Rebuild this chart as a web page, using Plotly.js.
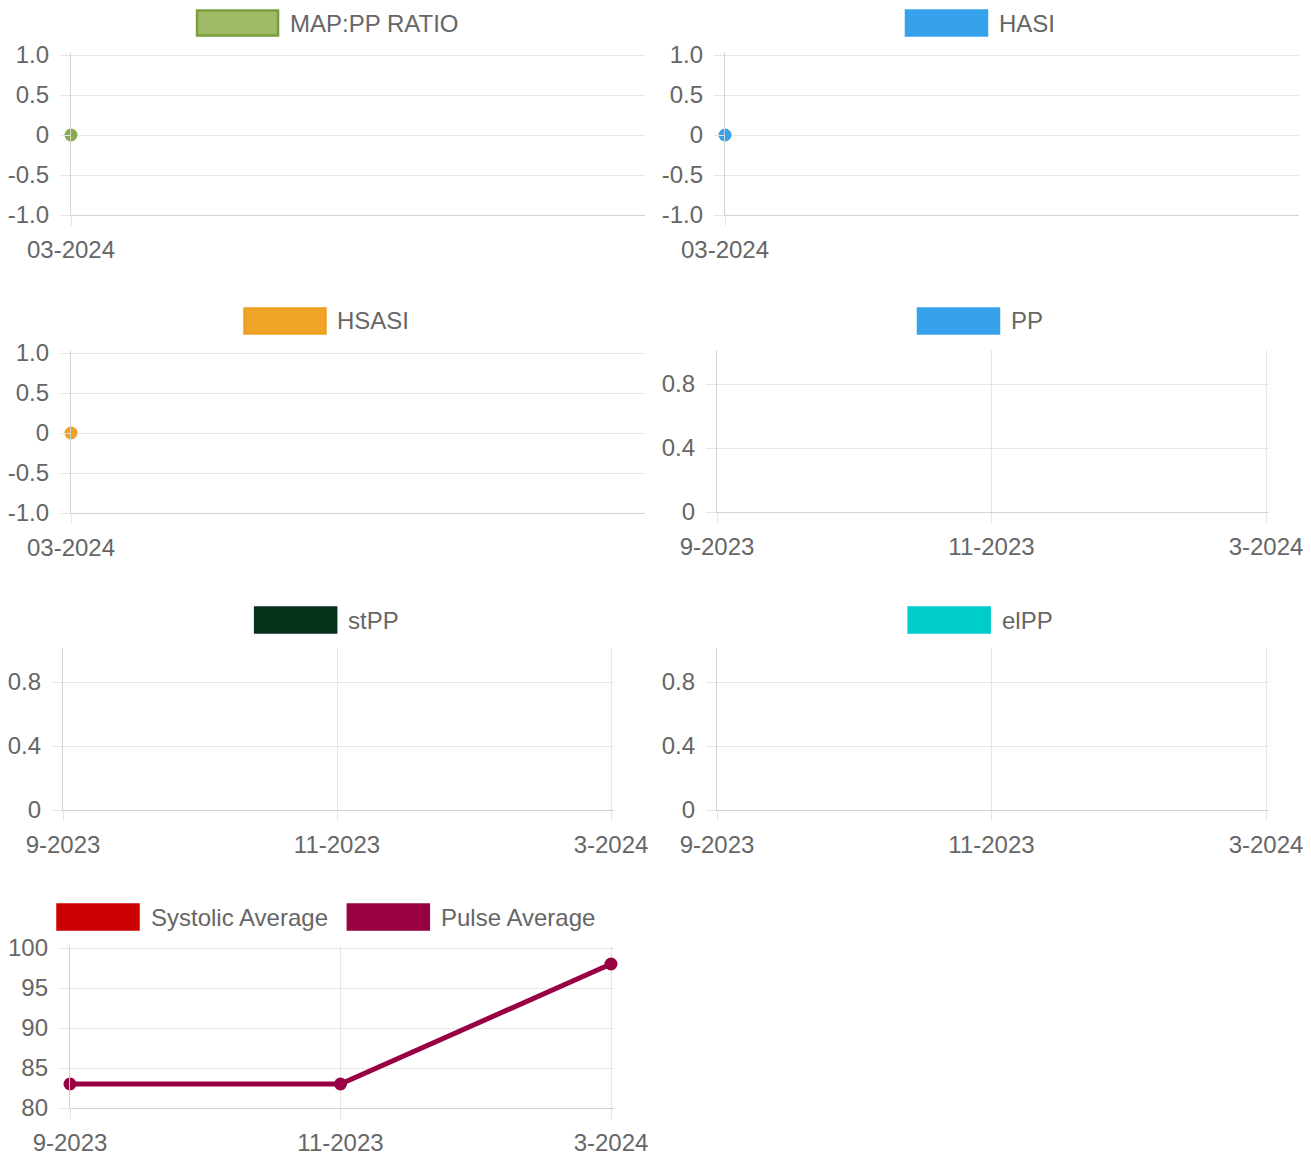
<!DOCTYPE html>
<html><head><meta charset="utf-8">
<script src="https://cdn.plot.ly/plotly-3.0.1.min.js"></script>
<style>html,body{margin:0;padding:0;background:#fff}#chart{width:1311px;height:1159px}</style>
</head><body><div id="chart"></div>
<script>
// ---- data ----
const monthsSingle = ["03-2024"];
const mapPpRatio = [0];
const hasi = [0];
const hsasi = [0];
const monthsTrend = ["9-2023", "11-2023", "3-2024"];
const pp = [null, null, null];
const stPP = [null, null, null];
const elPP = [null, null, null];
const systolicAverage = [null, null, null];
const pulseAverage = [83, 83, 98];
const ratioTicks = [-1, -0.5, 0, 0.5, 1];
const ratioTickText = ["-1.0", "-0.5", "0", "0.5", "1.0"];
const ppTicks = [0, 0.4, 0.8];
const ppTickText = ["0", "0.4", "0.8"];
const pulseTicks = [80, 85, 90, 95, 100];

// ---- layout helpers ----
const W = 1311, H = 1159;
const FONT = "Liberation Sans, Arial, sans-serif";
const FS = 24;
const TXT = "#666666";
const GRID = "#e6e6e6";
const AXLINE = "#d2d2d2";
const px = x => x / W;
const py = y => 1 - y / H;
const EXT = 2.5; // px beyond last gridline so it is not hidden at the plot edge

const panels = [
  {labels: monthsSingle, series: [{name: "MAP:PP RATIO", y: mapPpRatio, color: "#8aac4a", fill: "#a0bb68", border: "#7b9e3c"}],
   box: [71, 645, 55, 215], yr: [-1, 1], tv: ratioTicks, tt: ratioTickText, xr: [0, 1], xext: false, lc: [327.5, 23]},
  {labels: monthsSingle, series: [{name: "HASI", y: hasi, color: "#36a2eb", fill: "#36a2eb", border: "#36a2eb"}],
   box: [725, 1299, 55, 215], yr: [-1, 1], tv: ratioTicks, tt: ratioTickText, xr: [0, 1], xext: false, lc: [980, 23]},
  {labels: monthsSingle, series: [{name: "HSASI", y: hsasi, color: "#f0a024", fill: "#f0a428", border: "#eda01e"}],
   box: [71, 645, 353, 513], yr: [-1, 1], tv: ratioTicks, tt: ratioTickText, xr: [0, 1], xext: false, lc: [326.5, 321]},
  {labels: monthsTrend, series: [{name: "PP", y: pp, color: "#36a2eb", fill: "#36a2eb", border: "#36a2eb"}],
   box: [717, 1266, 352, 512], yr: [0, 1], tv: ppTicks, tt: ppTickText, xr: [0, 2], xext: true, lc: [980, 321]},
  {labels: monthsTrend, series: [{name: "stPP", y: stPP, color: "#03321b", fill: "#03321b", border: "#03321b"}],
   box: [63, 611, 650, 810], yr: [0, 1], tv: ppTicks, tt: ppTickText, xr: [0, 2], xext: true, lc: [326.5, 620]},
  {labels: monthsTrend, series: [{name: "elPP", y: elPP, color: "#00cccc", fill: "#00cccc", border: "#00cccc"}],
   box: [717, 1266, 650, 810], yr: [0, 1], tv: ppTicks, tt: ppTickText, xr: [0, 2], xext: true, lc: [980, 620]},
  {labels: monthsTrend, series: [
      {name: "Systolic Average", y: systolicAverage, color: "#cc0000", fill: "#cc0000", border: "#cc0000"},
      {name: "Pulse Average", y: pulseAverage, color: "#990044", fill: "#990044", border: "#990044"}],
   box: [70, 611, 948, 1108], yr: [80, 100], tv: pulseTicks, tt: pulseTicks.map(String), xr: [0, 2], xext: true, lc: [326.5, 917], line: true}
];

const canvas = document.createElement("canvas");
const ctx = canvas.getContext("2d");
ctx.font = FS + "px 'Liberation Sans'";
const tw = s => ctx.measureText(s).width;

const data = [];
const layout = {
  width: W, height: H, margin: {l: 0, r: 0, t: 0, b: 0},
  paper_bgcolor: "#fff", plot_bgcolor: "#fff", showlegend: false,
  font: {family: FONT, size: FS, color: TXT},
  shapes: [], annotations: []
};

panels.forEach((p, i) => {
  const n = i === 0 ? "" : String(i + 1);
  let [x0, x1, y0, y1] = p.box;
  let xr = p.xr.slice(), yr = p.yr.slice();
  if (p.xext) { xr[1] += EXT * (xr[1] - xr[0]) / (x1 - x0); x1 += EXT; }
  yr[1] += EXT * (yr[1] - yr[0]) / (y1 - y0); y0 -= EXT;
  layout["xaxis" + n] = {
    domain: [px(x0), px(x1)], anchor: "y" + n, type: "category",
    categoryorder: "array", categoryarray: p.labels, range: xr,
    showgrid: true, gridcolor: GRID, gridwidth: 1,
    showline: true, linecolor: AXLINE, linewidth: 1.2,
    ticks: "outside", ticklen: 10, tickcolor: GRID, tickwidth: 1,
    tickfont: {family: FONT, size: FS, color: TXT}, ticklabelstandoff: 3,
    zeroline: false, fixedrange: true
  };
  layout["yaxis" + n] = {
    domain: [py(y1), py(y0)], anchor: "x" + n, range: yr,
    tickmode: "array", tickvals: p.tv, ticktext: p.tt,
    showgrid: true, gridcolor: GRID, gridwidth: 1,
    showline: true, linecolor: AXLINE, linewidth: 1.2,
    ticks: "outside", ticklen: 10, tickcolor: GRID, tickwidth: 1,
    tickfont: {family: FONT, size: FS, color: TXT}, ticklabelstandoff: 6,
    zeroline: false, fixedrange: true
  };
  p.series.forEach(s => {
    data.push({
      type: "scatter", mode: p.line ? "lines+markers" : "markers",
      x: p.labels, y: s.y, name: s.name,
      xaxis: "x" + n, yaxis: "y" + n, cliponaxis: false,
      line: {color: s.color, width: 5},
      marker: {color: s.color, size: 13}, hoverinfo: "skip"
    });
  });
  // legend (box + label), centered above panel
  const BW = 83, BH = 27, GAP = 11, ITEM = 18;
  const widths = p.series.map(s => BW + GAP + tw(s.name));
  const total = widths.reduce((a, b) => a + b, 0) + ITEM * (p.series.length - 1);
  let cx = p.lc[0] - total / 2;
  const cy = p.lc[1];
  p.series.forEach((s, k) => {
    layout.shapes.push({type: "rect", xref: "paper", yref: "paper",
      x0: px(cx + 1), x1: px(cx + BW - 1), y0: py(cy + BH / 2 - 1), y1: py(cy - BH / 2 + 1),
      fillcolor: s.fill, line: {color: s.border, width: 2.5}});
    layout.annotations.push({xref: "paper", yref: "paper", x: px(cx + BW + GAP - 1), y: py(cy),
      xanchor: "left", yanchor: "middle", showarrow: false, text: s.name,
      font: {family: FONT, size: FS, color: TXT}, borderpad: 0});
    cx += widths[k] + ITEM;
  });
});

Plotly.newPlot("chart", data, layout, {staticPlot: true, displayModeBar: false});
</script>
</body></html>
